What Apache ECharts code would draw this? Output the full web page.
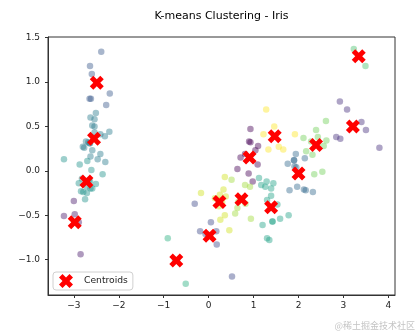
<!DOCTYPE html>
<html>
<head>
<meta charset="utf-8">
<script src="https://cdn.jsdelivr.net/npm/echarts@6/dist/echarts.min.js"></script>
<style>
html,body{margin:0;padding:0;background:#fff;}
#chart{width:418px;height:335px;}
</style>
</head>
<body>
<div id="chart"></div>
<script>
// PCA component 1 of each iris sample
const pcX = [
-2.68,-2.71,-2.89,-2.75,-2.73,-2.28,-2.82,-2.63,-2.89,-2.67,
-2.51,-2.61,-2.79,-3.22,-2.64,-2.39,-2.62,-2.65,-2.20,-2.59,
-2.31,-2.54,-3.22,-2.30,-2.36,-2.51,-2.47,-2.56,-2.64,-2.63,
-2.59,-2.41,-2.65,-2.60,-2.64,-2.87,-2.63,-2.80,-2.98,-2.59,
-2.77,-2.85,-3.00,-2.41,-2.21,-2.71,-2.54,-2.84,-2.54,-2.70,
1.28,0.93,1.46,0.18,1.09,0.64,1.10,-0.75,1.04,-0.01,
-0.51,0.51,0.26,0.98,-0.17,0.93,0.66,0.24,0.94,0.05,
1.12,0.36,1.30,0.92,0.71,0.90,1.33,1.56,0.81,-0.31,
-0.07,-0.19,0.14,1.38,0.59,0.81,1.22,0.82,0.25,0.17,
0.46,0.89,0.23,-0.70,0.36,0.33,0.38,0.64,-0.91,0.30,
2.53,1.42,2.62,1.97,2.35,3.40,0.52,2.93,2.32,2.92,
1.66,1.80,2.17,1.35,1.59,1.90,1.95,3.49,3.80,1.30,
2.43,1.20,3.50,1.39,2.28,2.61,1.26,1.29,2.12,2.39,
2.84,3.23,2.16,1.44,1.78,3.08,2.14,1.91,1.17,2.11,
2.31,1.92,1.42,2.56,2.42,1.94,1.53,1.76,1.90,1.39];
// PCA component 2
const pcY = [
0.32,-0.18,-0.14,-0.32,0.33,0.74,-0.09,0.16,-0.58,-0.11,
0.65,0.01,-0.24,-0.51,1.18,1.34,0.81,0.31,0.87,0.51,
0.39,0.43,0.13,0.10,-0.04,-0.15,0.13,0.37,0.31,-0.20,
-0.20,0.41,0.81,1.09,-0.12,0.07,0.60,0.27,-0.49,0.23,
0.26,-0.94,-0.34,0.19,0.44,-0.25,0.50,-0.23,0.58,0.11,
0.69,0.32,0.50,-0.83,0.07,-0.42,0.28,-1.00,0.23,-0.72,
-1.27,-0.10,-0.55,-0.12,-0.25,0.47,-0.35,-0.33,-0.54,-0.58,
-0.08,-0.07,-0.33,-0.18,0.15,0.33,0.24,0.27,-0.16,-0.37,
-0.71,-0.68,-0.31,-0.42,-0.48,0.19,0.41,-0.37,-0.27,-0.68,
-0.67,-0.03,-0.40,-1.01,-0.50,-0.21,-0.29,0.02,-0.76,-0.35,
-0.01,-0.57,0.34,-0.18,-0.04,0.55,-1.19,0.36,-0.24,0.78,
0.24,-0.22,0.22,-0.78,-0.54,0.12,0.04,1.18,0.26,-0.76,
0.38,-0.61,0.46,-0.20,0.33,0.56,-0.18,-0.12,-0.21,0.46,
0.38,1.37,-0.22,-0.14,-0.50,0.69,0.14,0.05,-0.16,0.37,
0.18,0.41,-0.57,0.28,0.30,0.19,-0.38,0.08,0.12,-0.28];
// K-means cluster label of each sample (0..14)
const labels = [
6,7,7,7,6,4,7,6,1,7,
6,7,7,1,4,4,4,6,4,6,
6,6,7,6,7,7,6,6,6,7,
7,6,4,4,7,7,6,6,1,6,
6,1,1,6,6,7,6,7,6,7,
14,0,14,3,0,12,0,9,0,3,
9,12,13,0,13,0,12,13,12,3,
8,13,8,12,0,0,14,14,12,3,
3,3,13,8,12,0,14,12,13,3,
13,0,13,9,13,13,13,0,9,13,
11,8,11,5,11,2,3,2,5,2,
14,5,11,8,8,5,5,10,2,8,
11,8,2,8,11,11,8,8,5,11,
2,10,5,8,8,2,5,5,8,11,
11,14,8,11,11,5,8,5,5,8];
// Centroid positions
const centroidX = [-2.49,-2.55,-2.72,-2.98,-0.72,0.02,0.24,0.73,0.91,1.47,1.39,2.00,2.39,3.21,3.34];
const centroidY = [0.99,0.36,-0.12,-0.58,-1.01,-0.73,-0.35,-0.32,0.15,0.39,-0.41,-0.03,0.29,0.50,1.29];
// Tick values
const xTicks = [-3,-2,-1,0,1,2,3,4];
const yTicks = [-1.0,-0.5,0.0,0.5,1.0,1.5];

const palette = ['#440154','#481a6c','#472f7d','#3e4989','#38598c','#31688e','#287c8e','#21918c',
                 '#1fa187','#2ab07f','#48c16e','#70cf57','#9fda3a','#d0e11c','#fde725'];
const ALPHA = 0.55;
function withAlpha(hex, a) {
  const n = parseInt(hex.slice(1), 16);
  return 'rgba(' + ((n >> 16) & 255) + ',' + ((n >> 8) & 255) + ',' + (n & 255) + ',' + a + ')';
}

const pointData = pcX.map((x, i) => ({value: [x, pcY[i]], itemStyle: {color: withAlpha(palette[labels[i]], ALPHA)}}));
const centroidData = centroidX.map((x, i) => [x, centroidY[i]]);

const xPath = 'path://M3 0L2 1L1 0L0 1L1 2L0 3L1 4L2 3L3 4L4 3L3 2L4 1Z';
const fmt = v => String(v).replace('-', '\u2212');
const fmtY = v => v.toFixed(1).replace('-', '\u2212');
const axisColor = '#333';
const font = 'DejaVu Sans';

const chart = echarts.init(document.getElementById('chart'), null, {renderer: 'canvas'});
chart.setOption({
  animation: false,
  backgroundColor: '#fff',
  title: {
    text: 'K-means Clustering - Iris',
    left: 221.5, top: 11, textAlign: 'center', padding: 0,
    textStyle: {fontFamily: font, fontSize: 11, fontWeight: 'normal', color: '#000'}
  },
  grid: {left: 48, right: 23, top: 37, bottom: 40, show: true, borderColor: axisColor, borderWidth: 1, backgroundColor: 'transparent'},
  xAxis: {
    type: 'value', min: -3.575, max: 4.147,
    axisLine: {show: true, onZero: false, lineStyle: {color: axisColor, width: 1}},
    axisTick: {show: true, length: 3, inside: false, customValues: xTicks, lineStyle: {color: axisColor}},
    axisLabel: {customValues: xTicks, formatter: fmt, margin: 6, fontFamily: font, fontSize: 9, color: '#222'},
    splitLine: {show: false}
  },
  yAxis: {
    type: 'value', min: -1.398, max: 1.506,
    axisLine: {show: true, onZero: false, lineStyle: {color: axisColor, width: 1}},
    axisTick: {show: true, length: 3, inside: false, customValues: yTicks, lineStyle: {color: axisColor}},
    axisLabel: {customValues: yTicks, formatter: fmtY, margin: 8, fontFamily: font, fontSize: 9, color: '#222'},
    splitLine: {show: false}
  },
  legend: {
    data: ['Centroids'],
    left: 53, top: 272, orient: 'vertical',
    padding: [2, 5, 2, 6],
    itemWidth: 26, itemHeight: 14,
    backgroundColor: 'rgba(255,255,255,0.8)',
    borderColor: '#d0d0d0', borderWidth: 1, borderRadius: 3,
    textStyle: {fontFamily: font, fontSize: 9.2, color: '#222'}
  },
  series: [
    {
      name: 'points', type: 'scatter', data: pointData,
      symbol: 'circle', symbolSize: 6.5,
      emphasis: {disabled: true}, silent: true, z: 2
    },
    {
      name: 'Centroids', type: 'scatter', data: centroidData,
      symbol: xPath, symbolSize: 14, symbolKeepAspect: true,
      itemStyle: {color: '#ff0000', opacity: 1},
      emphasis: {disabled: true}, silent: true, z: 3
    }
  ],
  graphic: [{
    type: 'text', right: 3, top: 321,
    style: {text: '@稀土掘金技术社区', fontFamily: 'Noto Sans CJK SC', fontSize: 9, fill: '#c4c4c4'}
  }]
});
</script>
</body>
</html>
